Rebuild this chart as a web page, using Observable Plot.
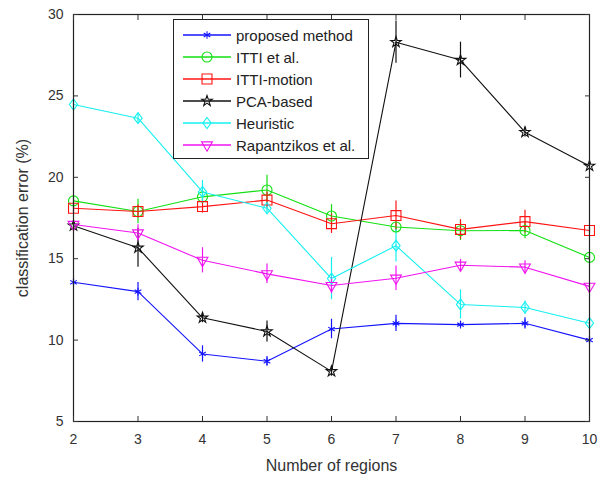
<!DOCTYPE html>
<html><head><meta charset="utf-8">
<script src="https://cdn.jsdelivr.net/npm/d3@7"></script>
<script src="https://cdn.jsdelivr.net/npm/@observablehq/plot@0.6"></script>
<style>
body{margin:0;background:#fff;font-family:"Liberation Sans",Arial,sans-serif;}
#wrap{position:relative;width:609px;height:480px;}
#legend{position:absolute;left:173px;top:19px;width:196px;height:140px;border:1px solid #222;background:#fff;box-sizing:border-box;padding-top:4px;}
.row{display:flex;align-items:center;height:22px;font-size:15px;color:#222;}
.row svg{margin-left:9px;margin-right:5px;}
</style></head><body><div id="wrap"><div id="legend"></div></div>
<script>
// ---- data ----
const regions = [2, 3, 4, 5, 6, 7, 8, 9, 10];
const methods = ["proposed method", "ITTI et al.", "ITTI-motion", "PCA-based", "Heuristic", "Rapantzikos et al."];
const proposed    = [13.55, 12.98, 9.15, 8.70, 10.68, 11.03, 10.95, 11.03, 10.00];
const itti        = [18.55, 17.90, 18.80, 19.22, 17.62, 16.95, 16.72, 16.73, 15.08];
const ittiMotion  = [18.10, 17.90, 18.20, 18.60, 17.15, 17.65, 16.80, 17.28, 16.73];
const pcaBased    = [17.03, 15.67, 11.37, 10.53, 8.08, 28.30, 27.20, 22.77, 20.70];
const heuristic   = [24.47, 23.63, 19.10, 18.10, 13.78, 15.80, 12.19, 12.00, 11.04];
const rapantzikos = [17.10, 16.58, 14.90, 14.07, 13.35, 13.80, 14.60, 14.48, 13.30];
// error-bar half widths
const proposedErr    = [0.20, 0.56, 0.50, 0.30, 0.60, 0.50, 0.20, 0.35, 0.20];
const ittiErr        = [0.30, 0.75, 0.30, 0.90, 0.70, 0.30, 0.60, 0.50, 0.20];
const ittiMotionErr  = [0.30, 0.40, 0.40, 0.50, 0.60, 0.90, 0.60, 0.70, 0.20];
const pcaBasedErr    = [0.30, 1.20, 0.30, 0.65, 0.30, 1.30, 1.10, 0.30, 0.20];
const heuristicErr   = [0.20, 0.30, 0.70, 0.30, 1.30, 1.00, 0.90, 0.40, 0.20];
const rapantzikosErr = [0.20, 0.50, 0.77, 0.60, 0.50, 0.75, 0.35, 0.40, 0.20];
const yTicks = [5, 10, 15, 20, 25, 30];
const xLabel = "Number of regions";
const yLabel = "classification error (%)";

// ---- styles ----
const colors = ["#1414ff", "#12e012", "#ff1414", "#111111", "#14f0f0", "#f014f0"];
const triangleDown = {draw(context, size) {
  const y = -Math.sqrt(size / (Math.sqrt(3) * 3));
  context.moveTo(0, -y * 2);
  context.lineTo(-Math.sqrt(3) * y, y);
  context.lineTo(Math.sqrt(3) * y, y);
  context.closePath();
}};
const diamondNarrow = {draw(context, size) {
  const h = Math.sqrt(size / 1.5), w = 0.75 * h;
  context.moveTo(0, -h); context.lineTo(w, 0); context.lineTo(0, h); context.lineTo(-w, 0);
  context.closePath();
}};
const symbols = [d3.symbolAsterisk, d3.symbolCircle, d3.symbolSquare, d3.symbolStar, diamondNarrow, triangleDown];
const radii = [3.6, 5, 5.6, 3.3, 3.8, 4];

const valueSets = [proposed, itti, ittiMotion, pcaBased, heuristic, rapantzikos];
const errSets = [proposedErr, ittiErr, ittiMotionErr, pcaBasedErr, heuristicErr, rapantzikosErr];
const seriesRows = valueSets.map((vals, i) => regions.map((x, j) => ({
  method: methods[i], x, y: vals[j], lo: vals[j] - errSets[i][j], hi: vals[j] + errSets[i][j]
})));

const marks = [];
seriesRows.forEach((rows, i) => {
  marks.push(Plot.ruleX(rows, {x: "x", y1: "lo", y2: "hi", stroke: colors[i], strokeWidth: 1.2}));
});
seriesRows.forEach((rows, i) => {
  marks.push(Plot.line(rows, {x: "x", y: "y", stroke: colors[i], strokeWidth: 1.1}));
  marks.push(Plot.dot(rows, {x: "x", y: "y", symbol: symbols[i], r: radii[i], stroke: colors[i], fill: "none", strokeWidth: 1.1}));
});

const chart = Plot.plot({
  width: 609, height: 480,
  marginLeft: 73, marginRight: 20, marginTop: 14, marginBottom: 59,
  style: {fontFamily: "Liberation Sans, Arial, sans-serif", fontSize: "14px", color: "#333", background: "#fff"},
  x: {domain: [2, 10]},
  y: {domain: [5, 30]},
  marks: [
    ...marks,
    Plot.frame({stroke: "#222", strokeWidth: 1.2}),
    Plot.axisX({ticks: regions, tickSize: -5, tickPadding: 18, label: null, tickFormat: d3.format("d"), fontSize: 14}),
    Plot.axisX({ticks: regions, anchor: "top", tickSize: -5, label: null, tickFormat: () => ""}),
    Plot.axisY({ticks: yTicks, tickSize: -5, tickPadding: 15, label: null, fontSize: 14}),
    Plot.axisY({ticks: yTicks, anchor: "right", tickSize: -5, label: null, tickFormat: () => ""}),
    Plot.text([xLabel], {frameAnchor: "bottom", textAnchor: "middle", lineAnchor: "middle", dy: 44, fontSize: 16, fill: "#333"}),
    Plot.text([yLabel], {frameAnchor: "left", textAnchor: "middle", lineAnchor: "middle", dx: -51, rotate: -90, fontSize: 16, fill: "#333"})
  ]
});
document.getElementById("wrap").prepend(chart);

// ---- legend ----
const legend = d3.select("#legend");
methods.forEach((m, i) => {
  const row = legend.append("div").attr("class", "row");
  const svg = row.append("svg").attr("width", 48).attr("height", 22);
  svg.append("line").attr("x1", 0).attr("x2", 48).attr("y1", 11).attr("y2", 11)
    .attr("stroke", colors[i]).attr("stroke-width", 1.3);
  svg.append("path").attr("transform", "translate(24,11)")
    .attr("d", d3.symbol(symbols[i], Math.PI * radii[i] * radii[i])())
    .attr("stroke", colors[i]).attr("fill", "none").attr("stroke-width", 1.1);
  row.append("span").text(m);
});
</script></body></html>
